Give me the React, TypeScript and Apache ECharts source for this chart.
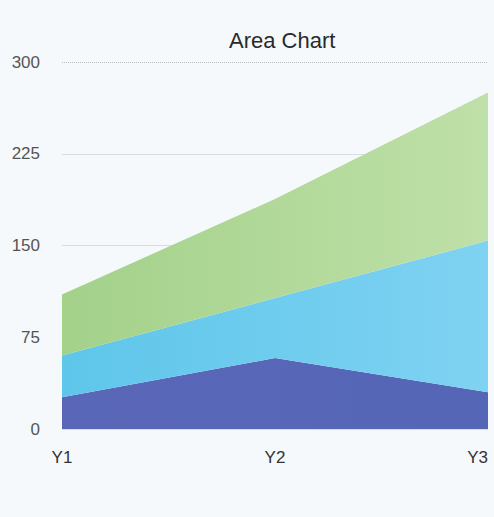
import React, { useEffect, useRef } from "react";
import * as echarts from "echarts";

const categories = ["Y1", "Y2", "Y3"];
const seriesDark = [26, 58, 30];
const seriesLight = [34, 49, 124];
const seriesGreen = [50, 81, 121];
const yTicks = [0, 75, 150, 225, 300];

export default function App() {
  const ref = useRef<HTMLDivElement>(null);
  useEffect(() => {
    if (!ref.current) return;
    const chart = echarts.init(ref.current, undefined, { renderer: "svg" });
    const mk = (name: string, data: number[], c1: string, c2: string, extra: any = {}) => ({
      name,
      type: "line",
      stack: "total",
      data,
      symbol: "none",
      lineStyle: { width: 0 },
      areaStyle: {
        opacity: 1,
        color: new echarts.graphic.LinearGradient(0, 0, 1, 0, [
          { offset: 0, color: c1 },
          { offset: 1, color: c2 },
        ]),
      },
      ...extra,
    });
    chart.setOption({
      animation: false,
      backgroundColor: "#f6f9fb",
      title: {
        text: "Area Chart",
        left: 224,
        top: 24,
        textStyle: { fontFamily: "Liberation Sans", fontSize: 22, fontWeight: "normal", color: "#2a2a2a" },
      },
      grid: { left: 62, right: 6, top: 62, bottom: 88 },
      xAxis: {
        type: "category",
        data: categories,
        boundaryGap: false,
        axisLine: { show: false },
        axisTick: { show: false },
        axisLabel: {
          fontFamily: "Liberation Sans",
          fontSize: 17,
          color: "#333",
          margin: 20,
          alignMinLabel: "center",
          alignMaxLabel: "right",
        },
      },
      yAxis: {
        type: "value",
        min: 0,
        max: 300,
        interval: 75,
        axisLine: { show: false },
        axisTick: { show: false },
        axisLabel: {
          fontFamily: "Liberation Sans",
          fontSize: 17,
          color: "#555",
          margin: 22,
          formatter: (v: number) => (yTicks.includes(v) ? String(v) : ""),
        },
        splitLine: {
          lineStyle: {
            color: ["#d8dde2", "#d8dde2", "#d8dde2", "#d8dde2", "transparent"],
            width: 1,
          },
        },
      },
      series: [
        mk("A", seriesDark, "#5a67b8", "#5566b6"),
        mk("B", seriesLight, "#5ec6ea", "#7fd2f2"),
        mk("C", seriesGreen, "#a3d18a", "#bfe0a8", {
          markLine: {
            silent: true,
            symbol: "none",
            label: { show: false },
            lineStyle: { type: "dotted", color: "#b8bec4", width: 1 },
            data: [{ yAxis: 300 }],
          },
        }),
      ],
    });
    return () => chart.dispose();
  }, []);
  return (
    <div
      ref={ref}
      style={{ position: "absolute", left: 0, top: 0, width: 494, height: 517 }}
    />
  );
}
